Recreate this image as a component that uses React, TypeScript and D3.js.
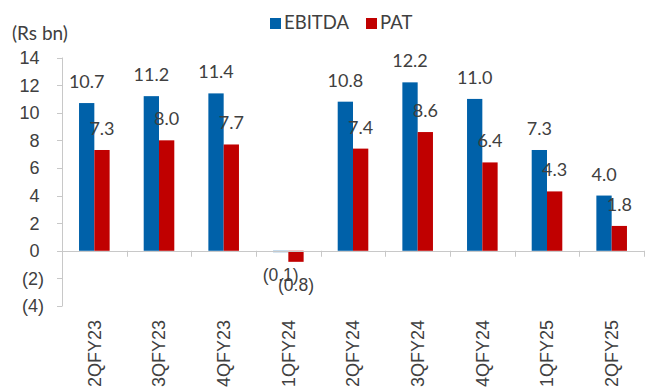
import React, { useEffect, useRef } from 'react';
import * as d3 from 'd3';

const categories = ['2QFY23', '3QFY23', '4QFY23', '1QFY24', '2QFY24', '3QFY24', '4QFY24', '1QFY25', '2QFY25'];
const ebitda = [10.7, 11.2, 11.4, -0.1, 10.8, 12.2, 11.0, 7.3, 4.0];
const pat = [7.3, 8.0, 7.7, -0.8, 7.4, 8.6, 6.4, 4.3, 1.8];
const seriesNames = ['EBITDA', 'PAT'];
const yTicks = [-4, -2, 0, 2, 4, 6, 8, 10, 12, 14];

const colors: Record<string, string> = { EBITDA: '#0061A9', PAT: '#C00000' };
const axisColor = '#c8c8c8';
const textColor = '#404040';
const labelFont = 'Lato, "Open Sans", sans-serif';
const axisFont = '"Liberation Sans", Arial, sans-serif';

const fmt = (v: number) => (v < 0 ? `(${Math.abs(v).toFixed(1)})` : v.toFixed(1));
const fmtTick = (v: number) => (v < 0 ? `(${Math.abs(v)})` : `${v}`);

const App = () => {
  const ref = useRef<SVGSVGElement>(null);

  useEffect(() => {
    const svg = d3.select(ref.current);
    svg.selectAll('*').remove();

    const x = d3.scaleBand<string>().domain(categories).range([62, 644]).padding(0);
    const y = d3.scaleLinear().domain([-4, 14]).range([306, 57.5]);
    const bw = x.bandwidth();
    const inner = d3
      .scaleBand<string>()
      .domain(seriesNames)
      .range([bw / 2 - 15.3, bw / 2 + 15.3]);

    const data = categories.map((c, i) => ({ cat: c, EBITDA: ebitda[i], PAT: pat[i] }));

    // y axis line and ticks
    svg
      .append('line')
      .attr('x1', 62.5)
      .attr('x2', 62.5)
      .attr('y1', y(14))
      .attr('y2', y(-4))
      .attr('stroke', axisColor);

    svg
      .selectAll('.ytick')
      .data(yTicks)
      .enter()
      .append('line')
      .attr('x1', 57)
      .attr('x2', 62.5)
      .attr('y1', d => Math.round(y(d)) + 0.5)
      .attr('y2', d => Math.round(y(d)) + 0.5)
      .attr('stroke', axisColor);

    svg
      .selectAll('.ylabel')
      .data(yTicks)
      .enter()
      .append('text')
      .attr('x', d => (d < 0 ? 44 : 39.5))
      .attr('y', d => y(d))
      .attr('dy', '0.36em')
      .attr('text-anchor', 'end')
      .style('font-family', axisFont)
      .style('font-size', '18px')
      .style('fill', textColor)
      .text(d => fmtTick(d));

    // bars
    const groups = svg
      .selectAll('.grp')
      .data(data)
      .enter()
      .append('g')
      .attr('transform', d => `translate(${x(d.cat)},0)`);

    groups
      .selectAll('rect')
      .data(d => seriesNames.map(s => ({ s, v: (d as any)[s] as number })))
      .enter()
      .append('rect')
      .attr('x', d => inner(d.s)!)
      .attr('width', inner.bandwidth())
      .attr('y', d => y(Math.max(0, d.v)))
      .attr('height', d => Math.abs(y(d.v) - y(0)))
      .attr('fill', d => colors[d.s]);

    // x axis line and category ticks
    svg
      .append('line')
      .attr('x1', 57)
      .attr('x2', 644)
      .attr('y1', Math.round(y(0)) + 0.5)
      .attr('y2', Math.round(y(0)) + 0.5)
      .attr('stroke', axisColor);

    svg
      .selectAll('.xtick')
      .data(categories.concat(['end']))
      .enter()
      .append('line')
      .attr('x1', (d, i) => Math.round(i < categories.length ? x(d)! : 644) + 0.5)
      .attr('x2', (d, i) => Math.round(i < categories.length ? x(d)! : 644) + 0.5)
      .attr('y1', y(0))
      .attr('y2', y(0) + 6)
      .attr('stroke', axisColor);

    // category labels
    svg
      .selectAll('.xlabel')
      .data(categories)
      .enter()
      .append('text')
      .attr('transform', d => `translate(${x(d)! + bw / 2},320) rotate(-90)`)
      .attr('dy', '0.35em')
      .attr('text-anchor', 'end')
      .style('font-family', axisFont)
      .style('font-size', '18px')
      .style('fill', textColor)
      .text(d => d);

    // data labels
    groups
      .selectAll('.val')
      .data(d => seriesNames.map(s => ({ s, v: (d as any)[s] as number })))
      .enter()
      .append('text')
      .attr('x', d => inner(d.s)! + inner.bandwidth() / 2)
      .attr('y', d => (d.v < 0 ? y(d.v) + 29 : y(d.v) - 15))
      .attr('text-anchor', 'middle')
      .style('font-family', d => (d.v < 0 ? axisFont : labelFont))
      .style('font-size', d => (d.v < 0 ? '17.5px' : '18px'))
      .style('fill', textColor)
      .text(d => fmt(d.v));

    // unit label
    svg
      .append('text')
      .attr('x', 12)
      .attr('y', 40)
      .style('font-family', labelFont)
      .style('font-size', '19px')
      .style('fill', textColor)
      .text('(Rs bn)');

    // legend
    const legendX = [270, 366];
    seriesNames.forEach((s, i) => {
      svg
        .append('rect')
        .attr('x', legendX[i])
        .attr('y', 18)
        .attr('width', 11)
        .attr('height', 11)
        .attr('fill', colors[s]);
      svg
        .append('text')
        .attr('x', legendX[i] + 14)
        .attr('y', 29)
        .style('font-family', labelFont)
        .style('font-size', '18.5px')
        .style('fill', textColor)
        .text(s);
    });
  }, []);

  return (
    <svg
      ref={ref}
      width={647}
      height={388}
      style={{ position: 'absolute', left: 0, top: 0, background: '#fff' }}
    />
  );
};

export default App;
